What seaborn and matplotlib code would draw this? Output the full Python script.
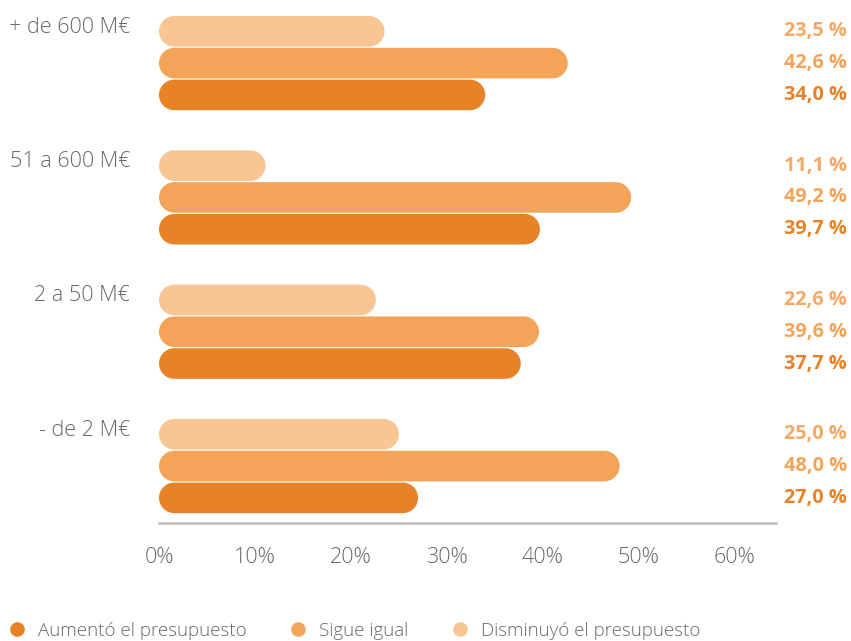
import matplotlib
matplotlib.use("Agg")
import matplotlib.pyplot as plt
from matplotlib.patches import PathPatch
from matplotlib.path import Path
from matplotlib.lines import Line2D
import matplotlib.transforms as mtransforms
import pandas as pd
import seaborn as sns

# Company size groups and the share of answers for each budget outcome (%)
categories = ["+ de 600 M€", "51 a 600 M€", "2 a 50 M€", "- de 2 M€"]
aumento = [34.0, 39.7, 37.7, 27.0]
igual = [42.6, 49.2, 39.6, 48.0]
disminuyo = [23.5, 11.1, 22.6, 25.0]
series_names = ["Aumentó el presupuesto", "Sigue igual", "Disminuyó el presupuesto"]
tick_values = [0, 10, 20, 30, 40, 50, 60]
tick_labels = ["0%", "10%", "20%", "30%", "40%", "50%", "60%"]

bar_colors = {
    "Aumentó el presupuesto": "#E88227",
    "Sigue igual": "#F4A459",
    "Disminuyó el presupuesto": "#F8C593",
}
label_colors = {
    "Aumentó el presupuesto": "#E88227",
    "Sigue igual": "#F4A459",
    "Disminuyó el presupuesto": "#F5A964",
}
text_gray = "#686868"

rows = []
for name, vals in zip(series_names, [aumento, igual, disminuyo]):
    for cat, v in zip(categories, vals):
        rows.append({"tamaño": cat, "porcentaje": v, "respuesta": name})
df = pd.DataFrame(rows)

sns.set_theme(style="white")
plt.rcParams["font.family"] = ["Open Sans", "DejaVu Sans"]

W, H = 851, 641
fig = plt.figure(figsize=(W / 100, H / 100), dpi=100)
ax_left, ax_right, ax_bottom_px = 159, 776, 523
ax = fig.add_axes([ax_left / W, 1 - ax_bottom_px / H, (ax_right - ax_left) / W, ax_bottom_px / H])

stack_order = ["Disminuyó el presupuesto", "Sigue igual", "Aumentó el presupuesto"]
sns.barplot(
    data=df, y="tamaño", x="porcentaje", hue="respuesta",
    order=categories, hue_order=stack_order, palette=bar_colors,
    saturation=1, orient="h", width=0.71, errorbar=None, legend=False, ax=ax,
)

xmax = 64.3
ylo, yhi = 3.424, -0.47
ax.set_xlim(0, xmax)
ax.set_ylim(ylo, yhi)

# pixels per data unit along each axis
sx = (ax_right - ax_left) / xmax
sy = ax_bottom_px / (ylo - yhi)
K = 0.5523  # cubic Bezier constant for quarter circles


def capsule_path(x0, y0, w, h):
    """Closed path of a bar with semicircular ends, circular on screen."""
    ry = h / 2
    rx = ry * sy / sx
    y1 = y0 + h
    yc = y0 + ry
    cl, cr = x0 + rx, x0 + w - rx
    verts = [
        (cl, y0), (cr, y0),
        (cr + K * rx, y0), (cr + rx, yc - K * ry), (cr + rx, yc),
        (cr + rx, yc + K * ry), (cr + K * rx, y1), (cr, y1),
        (cl, y1),
        (cl - K * rx, y1), (cl - rx, yc + K * ry), (cl - rx, yc),
        (cl - rx, yc - K * ry), (cl - K * rx, y0), (cl, y0),
        (cl, y0),
    ]
    codes = ([Path.MOVETO, Path.LINETO] + [Path.CURVE4] * 6 + [Path.LINETO]
             + [Path.CURVE4] * 6 + [Path.CLOSEPOLY])
    return Path(verts, codes)


# Swap the rectangular bars for capsule-shaped ones
gap = 1.2 / sy
for container in ax.containers:
    for bar in container:
        path = capsule_path(bar.get_x(), bar.get_y() + gap / 2,
                            bar.get_width(), bar.get_height() - gap)
        ax.add_patch(PathPatch(path, facecolor=bar.get_facecolor(),
                               edgecolor="none", linewidth=0))
        bar.set_visible(False)

# Value labels at the right margin
trans = mtransforms.blended_transform_factory(fig.transFigure, ax.transData)
for container, name in zip(ax.containers, stack_order):
    for bar in container:
        yc = bar.get_y() + bar.get_height() / 2
        txt = f"{bar.get_width():.1f}".replace(".", ",") + " %"
        ax.text(847 / W, yc, txt, transform=trans, ha="right", va="center",
                fontsize=14.3, fontweight="bold", color=label_colors[name])

# Group labels next to the top bar of each group
for cat, bar in zip(categories, ax.containers[0]):
    yc = bar.get_y() + bar.get_height() / 2
    ax.text(130 / W, yc - 0.03, cat, transform=trans, ha="right", va="center",
            fontsize=15.5, fontweight="light", color=text_gray)

ax.set_xticks(tick_values)
ax.set_xticklabels(tick_labels)
ax.set_yticks([])
ax.set_xlabel("")
ax.set_ylabel("")
ax.tick_params(axis="x", length=0, pad=17, labelsize=15.5, labelcolor=text_gray)
for lbl in ax.get_xticklabels():
    lbl.set_fontweight("light")
for side in ["top", "right", "left"]:
    ax.spines[side].set_visible(False)
ax.spines["bottom"].set_color("#BDBDBD")
ax.spines["bottom"].set_linewidth(1.8)
ax.set_facecolor("none")

handles = [
    Line2D([0], [0], marker="o", linestyle="none", markersize=10.5,
           markerfacecolor=bar_colors[n], markeredgecolor="none", label=n)
    for n in series_names
]
leg = fig.legend(handles=handles, loc="center left", bbox_to_anchor=(0.6 / W, 1 - 631 / H),
                 ncol=3, frameon=False, fontsize=13.5, handletextpad=0.59,
                 columnspacing=2.27, borderaxespad=0, handlelength=1.0)
for t in leg.get_texts():
    t.set_color(text_gray)
    t.set_fontweight("light")

fig.savefig("out.png", dpi=100)
